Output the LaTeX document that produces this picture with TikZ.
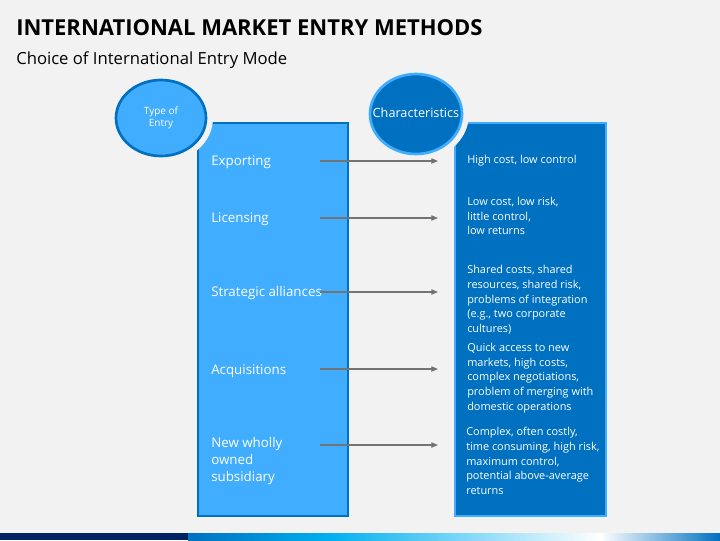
\documentclass[tikz,border=0pt]{standalone}
\usepackage{fontspec}
\setmainfont{Open Sans}
\usetikzlibrary{shapes.geometric,arrows.meta}
\definecolor{bg}{HTML}{F2F2F2}
\definecolor{lb}{HTML}{41ADFF}
\definecolor{db}{HTML}{0070C0}
\definecolor{navy}{HTML}{002060}
\definecolor{cy}{HTML}{00B0F0}
\tikzset{
 lt/.style={anchor=west,text=white,font=\fontsize{10}{12.5}\selectfont,align=left,inner sep=0},
 rt/.style={anchor=west,text=white,font=\fontsize{8.2}{11}\selectfont,align=left,inner sep=0},
 arr/.style={draw=gray!90!black,line width=0.8pt,-{Triangle[length=5pt,width=4pt]}},
}
\begin{document}
\begin{tikzpicture}[x=0.75pt,y=-0.75pt]
\useasboundingbox (0,0) rectangle (720,540);
\fill[bg] (0,0) rectangle (720,540);
% bottom bar
\fill[navy] (0,533) rectangle (188,540);
\shade[left color=db,right color=cy] (188,533) rectangle (330,540);
\shade[left color=cy,right color=white] (330,533) rectangle (600,540);
\shade[left color=white,right color=db] (600,533) rectangle (720,540);
% title
\node[anchor=west,font=\bfseries\fontsize{16.5}{18}\selectfont,text=black,inner sep=0] (title) at (16,28) {INTERNATIONAL MARKET ENTRY METHODS};
\node[anchor=west,font=\fontsize{12.5}{14}\selectfont,text=black,inner sep=0] (sub) at (16,60) {Choice of International Entry Mode};
% boxes
\draw[fill=lb,draw=db,line width=2pt] (198,123) rectangle (348,516);
\draw[fill=db,draw=lb,line width=2pt] (455,123) rectangle (606,516);
% ellipses with gap
\fill[bg] (161,118) ellipse (52 and 45);
\draw[fill=lb,draw=db,line width=2pt] (161,118) ellipse (45 and 38);
\node[text=white,font=\fontsize{7.5}{9.5}\selectfont,align=center] (type) at (161,118) {Type of\\Entry};
\fill[bg] (416,114) ellipse (53 and 47);
\draw[fill=db,draw=lb,line width=2pt] (416,114) ellipse (46 and 40);
\node[text=white,font=\fontsize{9.5}{11}\selectfont] (char) at (416,113) {Characteristics};
% left labels
\node[lt] (l1) at (211,162) {Exporting};
\node[lt] (l2) at (211,219) {Licensing};
\node[lt] (l3) at (211,293) {Strategic alliances};
\node[lt] (l4) at (211,371) {Acquisitions};
\node[lt,font=\fontsize{10}{13}\selectfont] (l5) at (211,461) {New wholly\\owned\\subsidiary};
% right labels
\node[rt] (r1) at (467,161) {High cost, low control};
\node[rt] (r2) at (467,216) {Low cost, low risk,\\little control,\\low returns};
\node[rt] (r3) at (467,300) {Shared costs, shared\\resources, shared risk,\\problems of integration\\(e.g., two corporate\\cultures)};
\node[rt] (r4) at (467,378) {Quick access to new\\markets, high costs,\\complex negotiations,\\problem of merging with\\domestic operations};
\node[rt] (r5) at (466,461) {Complex, often costly,\\time consuming, high risk,\\maximum control,\\potential above-average\\returns};
% arrows
\foreach \i/\y in {1/161,2/218,3/292,4/369,5/445}{
 \coordinate (s\i) at (320,\y);
 \coordinate (e\i) at (438,\y);
 \draw[arr] (s\i) -- (e\i);
}
\end{tikzpicture}
\end{document}
